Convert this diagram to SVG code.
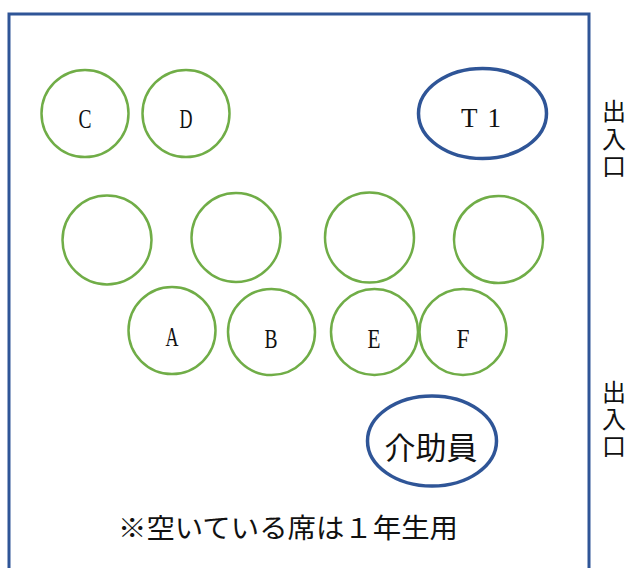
<svg xmlns="http://www.w3.org/2000/svg" width="630" height="568" viewBox="0 0 630 568">
<style>
.room{fill:none;stroke:#2F5597;stroke-width:3}
.seat{fill:#fff;stroke:#70AD47;stroke-width:2.5}
.staff{fill:#fff;stroke:#2F5597;stroke-width:3.5}
.lbl{font-family:"Liberation Serif","Noto Sans CJK JP",serif;font-size:27px;fill:#111;text-anchor:middle}
.jp{font-family:"Liberation Serif","Noto Sans CJK JP",serif;fill:#111}
</style>
<rect class="room" x="9" y="14" width="580" height="570"/>
<g id="seat-C"><ellipse class="seat" cx="85" cy="113.5" rx="43.5" ry="43.5"/><text class="lbl" x="85" y="128" textLength="13" lengthAdjust="spacingAndGlyphs">C</text></g>
<g id="seat-D"><ellipse class="seat" cx="186" cy="113.5" rx="43.5" ry="43.5"/><text class="lbl" x="186" y="128" textLength="13" lengthAdjust="spacingAndGlyphs">D</text></g>
<g id="T1"><ellipse class="staff" cx="482.5" cy="113.5" rx="64" ry="45"/><text class="lbl" x="481" y="127" textLength="40" lengthAdjust="spacing">T1</text></g>
<g id="seat-1"><ellipse class="seat" cx="107" cy="240" rx="44.5" ry="44.5"/></g>
<g id="seat-2"><ellipse class="seat" cx="236" cy="237.5" rx="44.5" ry="44.5"/></g>
<g id="seat-3"><ellipse class="seat" cx="369.5" cy="237.5" rx="44.5" ry="45"/></g>
<g id="seat-4"><ellipse class="seat" cx="498.5" cy="239.5" rx="44.5" ry="43.5"/></g>
<g id="seat-A"><ellipse class="seat" cx="172" cy="330.5" rx="43.5" ry="43.5"/><text class="lbl" x="172" y="346" textLength="13" lengthAdjust="spacingAndGlyphs">A</text></g>
<g id="seat-B"><ellipse class="seat" cx="271.5" cy="332" rx="43.5" ry="43"/><text class="lbl" x="271" y="348" textLength="13" lengthAdjust="spacingAndGlyphs">B</text></g>
<g id="seat-E"><ellipse class="seat" cx="374.5" cy="332" rx="43.5" ry="43"/><text class="lbl" x="374" y="348" textLength="13" lengthAdjust="spacingAndGlyphs">E</text></g>
<g id="seat-F"><ellipse class="seat" cx="463" cy="332" rx="43.5" ry="43"/><text class="lbl" x="463" y="348" textLength="13" lengthAdjust="spacingAndGlyphs">F</text></g>
<g id="helper"><ellipse class="staff" cx="432" cy="441" rx="64.5" ry="45"/><text class="jp" x="431" y="459" font-size="31" text-anchor="middle">介助員</text></g>
<g id="note"><text class="jp" x="118" y="538" font-size="27" textLength="340" lengthAdjust="spacingAndGlyphs">※空いている席は１年生用</text></g>
<g id="entrance-1" class="jp" font-size="24" text-anchor="middle"><text x="614" y="120">出</text><text x="614" y="148">入</text><text x="614" y="175">口</text></g>
<g id="entrance-2" class="jp" font-size="24" text-anchor="middle"><text x="614" y="401">出</text><text x="614" y="428">入</text><text x="614" y="455">口</text></g>
<g id="connectors"/>
</svg>
